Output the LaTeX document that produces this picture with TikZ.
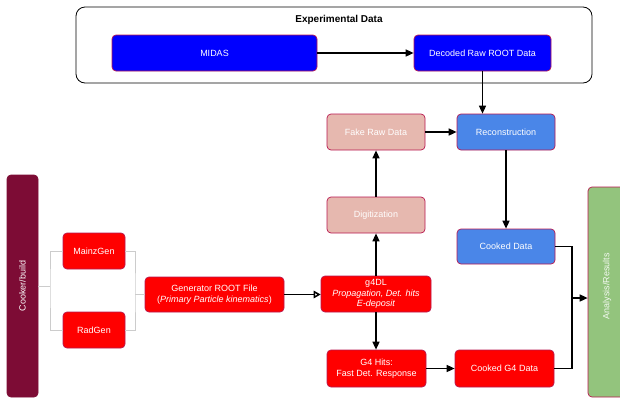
\documentclass[tikz,border=0pt]{standalone}
\usepackage{fontspec}
\setmainfont{Liberation Sans}
\usetikzlibrary{arrows.meta}

\definecolor{boxred}{HTML}{FF0000}
\definecolor{boxblue}{HTML}{0000FF}
\definecolor{skyblue}{HTML}{4A86E8}
\definecolor{salmon}{HTML}{E6B8AF}
\definecolor{leaf}{HTML}{93C47D}
\definecolor{wine}{HTML}{7D0C35}
\definecolor{rim}{HTML}{B8174F}
\definecolor{wire}{HTML}{CCCCCC}

\tikzset{
  proc/.style={draw=rim, line width=0.7pt, rounded corners=4pt, text=white,
    align=center, inner sep=0pt, font=\fontsize{9}{11}\selectfont},
  redbox/.style={proc, fill=boxred},
  bluebox/.style={proc, fill=boxblue},
  skybox/.style={proc, fill=skyblue},
  pinkbox/.style={proc, fill=salmon},
  flow/.style={line width=1.5pt, -{Triangle[length=8pt,width=7pt]}},
  hollowflow/.style={line width=1.5pt, -{Triangle[open,length=7pt,width=7.5pt]}},
  plainwire/.style={line width=1.5pt},
  greywire/.style={draw=wire, line width=0.9pt},
}

\begin{document}
\begin{tikzpicture}[x=1pt,y=-1pt]
\useasboundingbox (0,0) rectangle (620,408);

% experimental data frame
\node[draw=black, line width=0.8pt, rounded corners=9pt, minimum width=516pt,
  minimum height=76pt, inner sep=0pt] (exp) at (334,45) {};
\node[font=\bfseries\fontsize{10}{12}\selectfont] (exptitle) at (339,20) {Experimental Data};
\node[bluebox, minimum width=205pt, minimum height=36pt] (midas) at (214.5,53) {MIDAS};
\node[bluebox, minimum width=137pt, minimum height=36pt] (decoded) at (482.5,53) {Decoded Raw ROOT Data};

% reconstruction chain
\node[pinkbox, minimum width=98pt, minimum height=36pt] (fake) at (376,132) {Fake Raw Data};
\node[skybox, minimum width=98pt, minimum height=36pt] (reco) at (506,132) {Reconstruction};
\node[pinkbox, minimum width=98pt, minimum height=36pt] (digi) at (376,215) {Digitization};
\node[skybox, minimum width=98pt, minimum height=35pt] (cooked) at (506,246.5) {Cooked Data};
\node[redbox, minimum width=110pt, minimum height=36pt, font=\fontsize{9}{10.5}\selectfont] (g4dl) at (376,294)
  {g4DL\\\textit{Propagation, Det. hits}\\\textit{E-deposit}};
\node[redbox, minimum width=99pt, minimum height=37pt] (hits) at (376.5,368.5)
  {G4 Hits:\\Fast Det. Response};
\node[redbox, minimum width=99pt, minimum height=37pt] (cookedg4) at (504.5,368.5) {Cooked G4 Data};

% side bars
\node[proc, fill=leaf, minimum width=38pt, minimum height=210pt] (ana) at (607,292) {};
\node[rotate=90, text=white!90!leaf, font=\fontsize{9}{11}\selectfont] (analabel) at (607,286) {Analysis/Results};
\node[proc, fill=wine, draw=wine, minimum width=31pt, minimum height=222pt] (cooker) at (22.5,286) {};
\node[rotate=90, text=white, font=\fontsize{9}{11}\selectfont] (cookerlabel) at (22.5,286) {Cooker/build};

% generators
\node[redbox, minimum width=62pt, minimum height=36pt] (mainz) at (94,251) {MainzGen};
\node[redbox, minimum width=62pt, minimum height=36pt] (rad) at (94,330) {RadGen};
\node[redbox, minimum width=139pt, minimum height=35pt] (gen) at (214.5,294.5)
  {Generator ROOT File\\(\textit{Primary Particle kinematics})};

% grey tree connectors
\coordinate (split) at (50,286);
\coordinate (merge) at (135,294.5);
\draw[greywire] (cooker.east |- split) -- (split);
\draw[greywire] (mainz.west) -| (split) |- (rad.west);
\draw[greywire] (mainz.east) -| (merge) |- (rad.east);
\draw[greywire] (merge) -- (gen.west);

% data flow
\draw[flow] (midas.east) -- (decoded.west);
\draw[flow] (decoded.south) -- (decoded.south |- reco.north);
\draw[hollowflow] (gen.east) -- (gen.east -| g4dl.west);
\draw[flow] (g4dl.north) -- (digi.south);
\draw[flow] (digi.north) -- (fake.south);
\draw[flow] (fake.east) -- (reco.west);
\draw[flow] (reco.south) -- (cooked.north);
\draw[flow] (g4dl.south) -- (hits.north -| g4dl.south);
\draw[flow] (hits.east) -- (cookedg4.west);

\coordinate (join) at (572,298);
\draw[plainwire] (cooked.east) -| (join);
\draw[plainwire] (cookedg4.east) -| (join);
\draw[flow] (join) -- (join -| ana.west);
\end{tikzpicture}
\end{document}
